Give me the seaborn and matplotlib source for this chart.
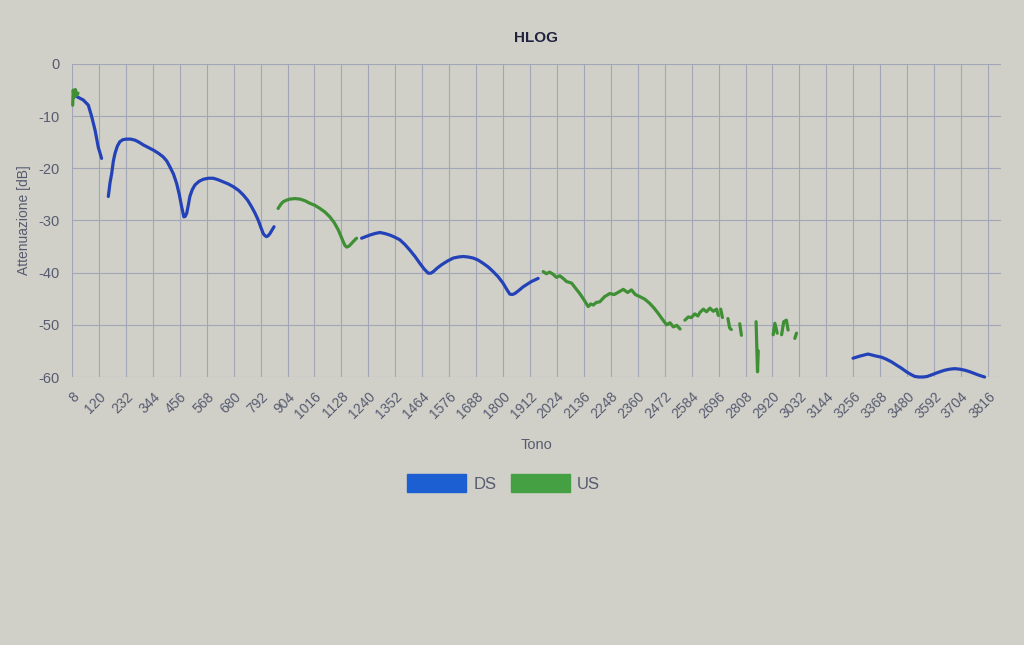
import numpy as np
import pandas as pd
import matplotlib.pyplot as plt
import seaborn as sns
from matplotlib.patches import Patch

# HLOG readings (tone -> attenuation dB), one list per visible line segment
ds_a_tone = [30, 55, 76, 90, 104, 117, 131]
ds_a_db = [-6.3, -6.9, -7.9, -10.1, -12.7, -15.9, -18.1]

ds_b_tone = [159, 166, 173, 180, 187, 197, 207, 220, 235, 252, 270, 287, 304, 325, 346, 367,
             387, 402, 415, 430, 443, 454, 464, 473, 479, 485, 491, 498, 508, 519, 536, 554,
             575, 595, 616, 637, 658, 678, 700, 720, 738, 755, 769, 782, 793, 803, 810, 817,
             824, 831, 840, 848]
ds_b_db = [-25.4, -22.8, -21.0, -18.6, -17.1, -15.7, -14.9, -14.5, -14.4, -14.4, -14.6, -15.0,
           -15.5, -16.0, -16.5, -17.1, -17.8, -18.6, -19.7, -21.1, -22.9, -25.0, -27.4, -29.3,
           -29.2, -28.6, -27.2, -25.4, -24.1, -23.2, -22.5, -22.1, -21.9, -21.9, -22.2, -22.6,
           -23.0, -23.5, -24.2, -25.1, -26.1, -27.4, -28.6, -29.9, -31.3, -32.5, -32.9, -33.1,
           -32.9, -32.5, -31.8, -31.2]

ds_c_tone = [1212, 1229, 1246, 1267, 1288, 1309, 1330, 1350, 1371, 1392, 1413, 1434, 1454,
             1472, 1489, 1500, 1510, 1527, 1544, 1568, 1593, 1614, 1634, 1655, 1676, 1697,
             1717, 1738, 1759, 1780, 1800, 1814, 1828, 1838, 1849, 1866, 1884, 1901, 1918,
             1932, 1946]
ds_c_db = [-33.4, -33.1, -32.8, -32.5, -32.3, -32.5, -32.8, -33.2, -33.7, -34.6, -35.7, -36.9,
           -38.2, -39.3, -40.1, -40.1, -39.8, -39.1, -38.5, -37.8, -37.2, -37.0, -36.9, -37.0,
           -37.2, -37.6, -38.2, -38.9, -39.8, -40.8, -42.0, -43.1, -44.1, -44.2, -44.0, -43.4,
           -42.7, -42.2, -41.7, -41.4, -41.1]

ds_d_tone = [3255, 3269, 3283, 3300, 3317, 3335, 3352, 3373, 3394, 3415, 3435, 3456, 3477,
             3495, 3512, 3529, 3546, 3563, 3581, 3598, 3616, 3636, 3657, 3678, 3699, 3720,
             3741, 3758, 3775, 3788, 3802]
ds_d_db = [-56.4, -56.2, -56.0, -55.8, -55.6, -55.8, -56.0, -56.2, -56.6, -57.1, -57.7, -58.3,
           -59.0, -59.5, -59.9, -60.0, -60.0, -59.9, -59.6, -59.3, -59.0, -58.7, -58.5, -58.4,
           -58.5, -58.7, -59.0, -59.3, -59.6, -59.8, -60.0]

us_a_tone = [11, 13, 17, 22, 28, 33]
us_a_db = [-7.9, -5.0, -6.4, -4.9, -6.0, -5.6]

us_b_tone = [865, 876, 886, 900, 914, 935, 956, 976, 997, 1018, 1039, 1060, 1080, 1098, 1115,
             1126, 1136, 1143, 1150, 1160, 1170, 1180, 1191]
us_b_db = [-27.7, -26.9, -26.4, -26.1, -25.9, -25.8, -25.9, -26.2, -26.7, -27.1, -27.7, -28.4,
           -29.3, -30.4, -31.8, -33.0, -34.1, -34.8, -35.1, -34.9, -34.4, -33.9, -33.4]

us_c_tone = [1967, 1980, 1994, 2008, 2022, 2036, 2050, 2064, 2085, 2100, 2119, 2135, 2154,
             2165, 2175, 2188, 2202, 2222, 2244, 2262, 2285, 2300, 2318, 2334, 2350, 2369,
             2390, 2410, 2428, 2445, 2462, 2480, 2494, 2508, 2522, 2536]
us_c_db = [-39.8, -40.2, -39.9, -40.3, -40.9, -40.6, -41.1, -41.7, -42.0, -42.9, -44.0, -45.1,
           -46.5, -46.0, -46.2, -45.7, -45.6, -44.6, -44.0, -44.2, -43.6, -43.2, -43.8, -43.3,
           -44.2, -44.6, -45.1, -45.9, -46.8, -47.8, -48.9, -50.0, -49.6, -50.4, -50.1, -50.8]

us_d_tone = [2556, 2570, 2583, 2597, 2610, 2619, 2633, 2646, 2660, 2674, 2688, 2695]
us_d_db = [-49.1, -48.5, -48.6, -47.9, -48.3, -47.6, -47.0, -47.5, -46.8, -47.4, -47.0, -48.2]
us_e_tone = [2705, 2712]
us_e_db = [-47.0, -48.6]
us_f_tone = [2735, 2742, 2749]
us_f_db = [-48.8, -50.6, -50.9]
us_g_tone = [2784, 2791]
us_g_db = [-49.8, -52.0]
us_h_tone = [2852, 2856, 2858, 2861]
us_h_db = [-49.4, -56.0, -59.0, -55.0]
us_i_tone = [2923, 2930, 2940]
us_i_db = [-51.9, -49.7, -51.6]
us_j_tone = [2958, 2967, 2978, 2985]
us_j_db = [-51.9, -49.4, -49.1, -51.0]
us_k_tone = [3013, 3020]
us_k_db = [-52.6, -51.6]

x_ticks = list(range(8, 3817, 112))
y_ticks = [0, -10, -20, -30, -40, -50, -60]

segments = [
    ("DS", ds_a_tone, ds_a_db), ("DS", ds_b_tone, ds_b_db),
    ("DS", ds_c_tone, ds_c_db), ("DS", ds_d_tone, ds_d_db),
    ("US", us_a_tone, us_a_db), ("US", us_b_tone, us_b_db),
    ("US", us_c_tone, us_c_db), ("US", us_d_tone, us_d_db),
    ("US", us_e_tone, us_e_db), ("US", us_f_tone, us_f_db),
    ("US", us_g_tone, us_g_db), ("US", us_h_tone, us_h_db),
    ("US", us_i_tone, us_i_db), ("US", us_j_tone, us_j_db),
    ("US", us_k_tone, us_k_db),
]
rows = []
for i, (band, tones, dbs) in enumerate(segments):
    for t, d in zip(tones, dbs):
        rows.append({"tone": t, "db": d, "band": band, "seg": i})
df = pd.DataFrame(rows)

bg = "#d0d0c8"
grid_c = "#a2a6b6"
text_c = "#575b70"
line_colors = {"DS": "#2342b8", "US": "#3f8f35"}

sns.set_theme(style="white")
plt.rcParams['font.family'] = ['Liberation Sans', 'DejaVu Sans']

fig = plt.figure(figsize=(10.24, 6.45), dpi=100, facecolor=bg)
ax = fig.add_axes([0.0703, 0.4155, 0.9072, 0.4853])
ax.set_facecolor(bg)

sns.lineplot(data=df, x="tone", y="db", hue="band", units="seg", estimator=None,
             palette=line_colors, linewidth=2.3, legend=False, sort=False, ax=ax)
for ln in ax.lines:
    ln.set_clip_on(False)
    ln.set_solid_capstyle("round")
    ln.set_solid_joinstyle("round")

ax.set_xlim(8, 3870)
ax.set_ylim(-60, 0)
ax.set_xticks(x_ticks)
ax.set_xticklabels([str(t) for t in x_ticks], rotation=45, ha="right",
                   rotation_mode="anchor", fontsize=10, color=text_c)
ax.set_yticks(y_ticks)
ax.set_yticklabels([str(v) for v in y_ticks], fontsize=10.5, color=text_c)
ax.tick_params(axis="both", length=7, color=grid_c, width=0.8, pad=2)
ax.grid(True, color=grid_c, linewidth=0.8)
for s in ax.spines.values():
    s.set_visible(False)

ax.set_title("HLOG", fontsize=11, fontweight="bold", color="#20223f", pad=16)
ax.set_ylabel("Attenuazione [dB]", fontsize=10, color=text_c, labelpad=5)
ax.set_xlabel("Tono", fontsize=10.5, color=text_c, labelpad=12)

handles = [Patch(facecolor="#1c5fd2", edgecolor="#1c5fd2"),
           Patch(facecolor="#44a043", edgecolor="#44a043")]
fig.legend(handles, ["DS", "US"], loc="center", bbox_to_anchor=(0.492, 0.251), ncol=2,
           frameon=False, handlelength=3.5, handleheight=1.3, columnspacing=0.9,
           handletextpad=0.45, prop={"size": 12}, labelcolor=text_c)

fig.savefig("out.png", dpi=100, facecolor=bg)
